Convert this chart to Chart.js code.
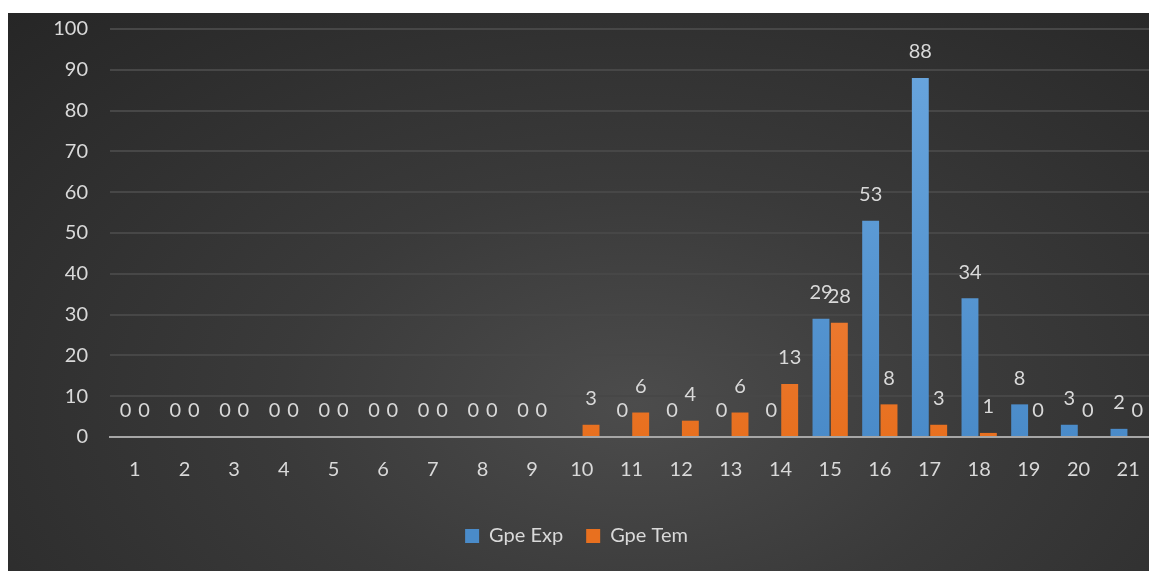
<!DOCTYPE html>
<html>
<head>
<meta charset="utf-8">
<script src="https://cdn.jsdelivr.net/npm/chart.js@4/dist/chart.umd.min.js"></script>
<style>
  html, body { margin: 0; padding: 0; background: #fff; overflow: hidden; }
  #bg {
    position: absolute; left: 8px; top: 13px; width: 1141px; height: 558px;
    background: radial-gradient(ellipse farthest-corner at 55% 70%, #4c4c4c 0%, #3a3a3a 40%, #262626 100%);
  }
  #wrap { position: absolute; left: 0; top: 0; width: 1153px; height: 571px; }
</style>
</head>
<body>
<div id="bg"></div>
<div id="wrap"><canvas id="chart" width="1153" height="571"></canvas></div>
<script>
// data
const categories = ['1', '2', '3', '4', '5', '6', '7', '8', '9', '10', '11', '12', '13', '14', '15', '16', '17', '18', '19', '20', '21']
const gpeExp = [0, 0, 0, 0, 0, 0, 0, 0, 0, null, 0, 0, 0, 0, 29, 53, 88, 34, 8, 3, 2]
const gpeTem = [0, 0, 0, 0, 0, 0, 0, 0, 0, 3, 6, 4, 6, 13, 28, 8, 3, 1, 0, 0, 0]
const yTicks = [0, 10, 20, 30, 40, 50, 60, 70, 80, 90, 100]

const textColor = '#d9d9d9'
const font = { family: 'Lato, "Open Sans", sans-serif', size: 20 }

// bars get a light-to-dark vertical gradient like the office theme
const barFill = (top, bottom) => ctx => {
  const area = ctx.chart.chartArea
  if (!area) return bottom
  const g = ctx.chart.ctx.createLinearGradient(0, area.top, 0, area.bottom)
  g.addColorStop(0, top)
  g.addColorStop(1, bottom)
  return g
}

// value labels above each bar
const valueLabels = {
  id: 'valueLabels',
  afterDatasetsDraw(chart) {
    const ctx = chart.ctx
    ctx.save()
    ctx.font = `${font.size}px ${font.family}`
    ctx.fillStyle = textColor
    ctx.textAlign = 'center'
    ctx.textBaseline = 'middle'
    chart.data.datasets.forEach((ds, i) => {
      chart.getDatasetMeta(i).data.forEach((bar, j) => {
        const v = ds.data[j]
        if (v === null) return
        ctx.fillText(String(v), bar.x, bar.y - 26)
      })
    })
    ctx.restore()
  }
}

const chart = new Chart(document.getElementById('chart'), {
  type: 'bar',
  data: {
    labels: categories,
    datasets: [{
      label: 'Gpe Exp',
      data: gpeExp,
      backgroundColor: barFill('#6ba7df', '#4a8bc9'),
      categoryPercentage: 0.74,
      barPercentage: 0.92
    }, {
      label: 'Gpe Tem',
      data: gpeTem,
      backgroundColor: barFill('#f28d55', '#e8701f'),
      categoryPercentage: 0.74,
      barPercentage: 0.92
    }]
  },
  options: {
    responsive: false,
    animation: false,
    layout: { padding: { top: 29, left: 0, right: 0, bottom: 15 } },
    scales: {
      x: {
        grid: { display: false, drawTicks: false },
        border: { color: '#a6a6a6', width: 2 },
        ticks: { color: textColor, font, padding: 21 },
        afterFit: scale => { scale.paddingLeft = 0; scale.paddingRight = 0 }
      },
      y: {
        min: 0,
        max: 100,
        afterBuildTicks: scale => { scale.ticks = yTicks.map(v => ({ value: v })) },
        grid: { color: '#474747', lineWidth: 2, drawTicks: false },
        border: { display: false },
        ticks: { color: textColor, font, padding: 22 },
        afterFit: scale => { scale.width = 110; scale.paddingTop = 0; scale.paddingBottom = 0 }
      }
    },
    plugins: {
      legend: {
        position: 'bottom',
        labels: { color: textColor, font, boxWidth: 14, boxHeight: 14, padding: 23 }
      },
      tooltip: { enabled: false }
    }
  },
  plugins: [valueLabels]
})
</script>
</body>
</html>
